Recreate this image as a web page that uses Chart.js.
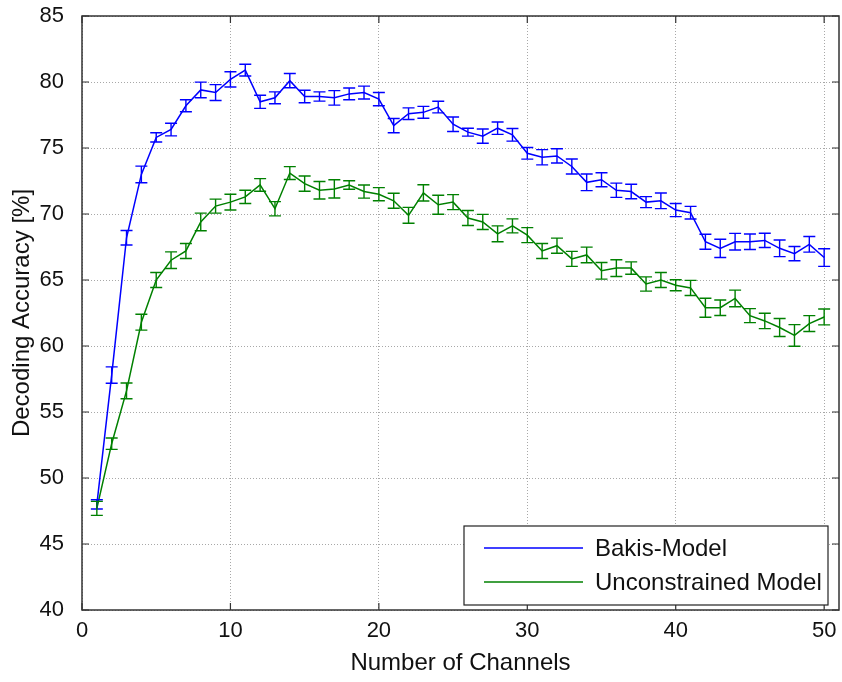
<!DOCTYPE html>
<html>
<head>
<meta charset="utf-8">
<script src="https://cdn.jsdelivr.net/npm/chart.js@4.4.0/dist/chart.umd.min.js"></script>
<style>
html,body{margin:0;padding:0;background:#fff;}
#wrap{width:842px;height:682px;position:relative;}
</style>
</head>
<body>
<div id="wrap"><canvas id="chart"></canvas></div>
<script>
// number of channels 1..50
const channels = [1,2,3,4,5,6,7,8,9,10,11,12,13,14,15,16,17,18,19,20,
  21,22,23,24,25,26,27,28,29,30,31,32,33,34,35,36,37,38,39,40,
  41,42,43,44,45,46,47,48,49,50];

const bakisMean = [48.0,57.8,68.2,73.0,75.8,76.4,78.2,79.4,79.2,80.2,
  80.9,78.5,78.8,80.1,78.9,78.9,78.8,79.1,79.2,78.7,
  76.7,77.6,77.7,78.1,76.8,76.2,75.9,76.5,76.0,74.6,
  74.3,74.4,73.6,72.4,72.6,71.8,71.7,70.9,71.0,70.3,
  70.1,67.9,67.4,67.9,67.9,68.0,67.4,67.0,67.7,66.7];
const bakisErr = [0.35,0.62,0.55,0.63,0.35,0.48,0.45,0.59,0.6,0.58,
  0.45,0.5,0.45,0.54,0.47,0.35,0.55,0.45,0.49,0.5,
  0.54,0.44,0.45,0.44,0.55,0.3,0.54,0.47,0.48,0.44,
  0.58,0.54,0.57,0.63,0.53,0.54,0.55,0.42,0.59,0.5,
  0.48,0.57,0.69,0.63,0.59,0.54,0.63,0.54,0.59,0.67];

const unconMean = [47.7,52.6,56.6,61.8,65.0,66.5,67.2,69.4,70.6,70.9,
  71.3,72.2,70.4,73.1,72.3,71.8,71.9,72.2,71.7,71.5,
  71.0,69.9,71.6,70.7,70.9,69.7,69.4,68.5,69.1,68.4,
  67.2,67.6,66.6,66.9,65.7,65.9,65.9,64.7,65.0,64.6,
  64.4,62.9,62.9,63.6,62.3,61.9,61.4,60.8,61.7,62.2];
const unconErr = [0.53,0.43,0.6,0.6,0.57,0.63,0.57,0.67,0.53,0.6,
  0.5,0.48,0.54,0.49,0.58,0.66,0.69,0.32,0.5,0.5,
  0.57,0.6,0.62,0.72,0.57,0.57,0.57,0.6,0.53,0.57,
  0.57,0.57,0.57,0.59,0.63,0.63,0.47,0.54,0.57,0.42,
  0.57,0.72,0.59,0.63,0.53,0.58,0.68,0.82,0.6,0.6];

const seriesNames = ['Bakis-Model','Unconstrained Model'];
const xTicks = [0,10,20,30,40,50];
const yTicks = [40,45,50,55,60,65,70,75,80,85];

const fontFam = "'Liberation Sans', Arial, Helvetica, sans-serif";

function toPoints(ys){
  return channels.map((c,i) => ({x:c, y:ys[i]}));
}

// error bars, drawn through the scales
const errorBars = {
  id:'errorBars',
  afterDatasetsDraw(chart){
    const ctx = chart.ctx;
    const xs = chart.scales.x, ys = chart.scales.y;
    chart.data.datasets.forEach(ds => {
      ctx.save();
      ctx.strokeStyle = ds.borderColor;
      ctx.lineWidth = 1.4;
      ds.errors.forEach((e,i) => {
        const px = xs.getPixelForValue(channels[i]);
        const top = ys.getPixelForValue(ds.data[i].y + e);
        const bot = ys.getPixelForValue(ds.data[i].y - e);
        ctx.beginPath();
        ctx.moveTo(px, top); ctx.lineTo(px, bot);
        ctx.moveTo(px-6, top); ctx.lineTo(px+6, top);
        ctx.moveTo(px-6, bot); ctx.lineTo(px+6, bot);
        ctx.stroke();
      });
      ctx.restore();
    });
  }
};

// matlab style box, inward ticks and legend
const boxAndLegend = {
  id:'boxAndLegend',
  afterDraw(chart){
    const ctx = chart.ctx;
    const a = chart.chartArea;
    const xs = chart.scales.x, ys = chart.scales.y;
    ctx.save();
    ctx.strokeStyle = '#333';
    ctx.lineWidth = 1.5;
    ctx.strokeRect(a.left, a.top, a.right-a.left, a.bottom-a.top);
    ctx.lineWidth = 1.2;
    ctx.beginPath();
    xTicks.forEach(v => {
      const p = xs.getPixelForValue(v);
      ctx.moveTo(p, a.bottom); ctx.lineTo(p, a.bottom-7);
      ctx.moveTo(p, a.top); ctx.lineTo(p, a.top+7);
    });
    yTicks.forEach(v => {
      const p = ys.getPixelForValue(v);
      ctx.moveTo(a.left, p); ctx.lineTo(a.left+7, p);
      ctx.moveTo(a.right, p); ctx.lineTo(a.right-7, p);
    });
    ctx.stroke();

    // legend
    const lw = 364, lh = 79;
    const lx = a.right - 11 - lw, ly = a.bottom - 5 - lh;
    ctx.fillStyle = '#fff';
    ctx.fillRect(lx, ly, lw, lh);
    ctx.strokeStyle = '#222';
    ctx.lineWidth = 1.2;
    ctx.strokeRect(lx, ly, lw, lh);
    ctx.font = '24px ' + fontFam;
    ctx.textBaseline = 'middle';
    ctx.textAlign = 'left';
    chart.data.datasets.forEach((ds,i) => {
      const yy = ly + 22 + i*34;
      ctx.strokeStyle = ds.borderColor;
      ctx.lineWidth = 1.5;
      ctx.beginPath();
      ctx.moveTo(lx+20, yy); ctx.lineTo(lx+119, yy);
      ctx.stroke();
      ctx.fillStyle = '#111';
      ctx.fillText(ds.label, lx+131, yy+1);
    });
    ctx.restore();
  }
};

const chart = new Chart(document.getElementById('chart'), {
  type:'line',
  data:{
    datasets:[
      {label:seriesNames[0], data:toPoints(bakisMean), errors:bakisErr,
        borderColor:'#0000ff', borderWidth:1.5, pointRadius:0, tension:0, fill:false},
      {label:seriesNames[1], data:toPoints(unconMean), errors:unconErr,
        borderColor:'#008000', borderWidth:1.5, pointRadius:0, tension:0, fill:false}
    ]
  },
  options:{
    responsive:true,
    maintainAspectRatio:false,
    animation:false,
    layout:{padding:{top:16, right:3, left:0, bottom:0}},
    plugins:{legend:{display:false}, tooltip:{enabled:false}},
    scales:{
      x:{
        type:'linear', min:0, max:51,
        afterBuildTicks: s => { s.ticks = xTicks.map(v => ({value:v})); },
        afterFit: s => { s.height = 72; s.paddingLeft = 0; s.paddingRight = 0; },
        grid:{color:'#a8a8a8', lineWidth:1, drawTicks:false},
        border:{display:false, dash:[1,2]},
        ticks:{color:'#111', font:{family:fontFam, size:22}, padding:8, maxRotation:0},
        title:{display:true, text:'Number of Channels', color:'#111',
          font:{family:fontFam, size:24}, padding:{bottom:4}}
      },
      y:{
        min:40, max:85,
        afterBuildTicks: s => { s.ticks = yTicks.map(v => ({value:v})); },
        afterFit: s => { s.width = 82; s.paddingTop = 0; s.paddingBottom = 0; },
        grid:{color:'#a8a8a8', lineWidth:1, drawTicks:false},
        border:{display:false, dash:[1,2]},
        ticks:{color:'#111', font:{family:fontFam, size:22}, padding:18},
        title:{display:true, text:'Decoding Accuracy [%]', color:'#111',
          font:{family:fontFam, size:24}, padding:{top:8}}
      }
    }
  },
  plugins:[errorBars, boxAndLegend]
});
</script>
</body>
</html>
